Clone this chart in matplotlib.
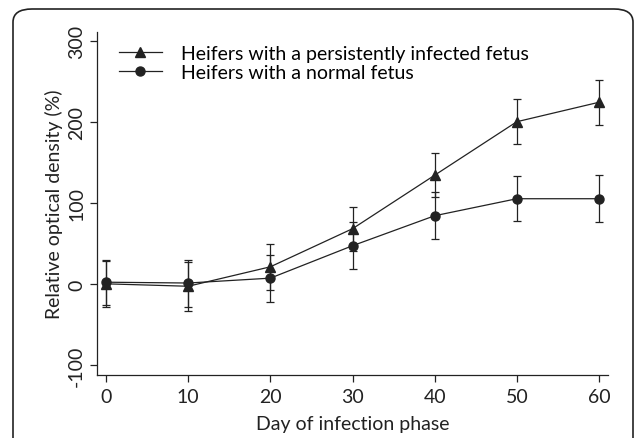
import matplotlib
matplotlib.use("Agg")
from matplotlib import pyplot as plt
from matplotlib.patches import FancyBboxPatch

# Data
days = [0, 10, 20, 30, 40, 50, 60]
pi_mean = [0, -3, 21, 68, 134, 200, 224]
pi_err = [28, 30, 28, 27, 27, 28, 28]
normal_mean = [2, 1, 7, 47, 84, 105, 105]
normal_err = [28, 29, 29, 29, 29, 28, 29]

labels = ['Heifers with a persistently infected fetus',
          'Heifers with a normal fetus']

plt.rcParams['font.family'] = ['Lato', 'DejaVu Sans']
plt.rcParams['axes.unicode_minus'] = False
ink = '#222222'
fs = 14

fig = plt.figure(figsize=(6.34, 4.39), dpi=100)
ax = fig.add_axes([0.153, 0.1444, 0.806, 0.781])

ax.errorbar(days, pi_mean, yerr=pi_err, marker='^', markersize=6.5,
            color=ink, lw=0.9, elinewidth=0.9, capsize=3, capthick=0.9,
            label=labels[0])
ax.errorbar(days, normal_mean, yerr=normal_err, marker='o', markersize=6.5,
            color=ink, lw=0.9, elinewidth=0.9, capsize=3, capthick=0.9,
            label=labels[1])

ax.set_xlim(-1.1, 61.1)
ax.set_ylim(-112, 311)
ax.set_xticks(days)
ax.set_yticks([-100, 0, 100, 200, 300])
ax.tick_params(axis='y', labelrotation=90)
for t in ax.get_yticklabels():
    t.set_va('center')
ax.tick_params(colors=ink, labelsize=fs, length=5, width=0.9)
ax.tick_params(axis='x', pad=5)
for s in ['top', 'right']:
    ax.spines[s].set_visible(False)
for s in ['left', 'bottom']:
    ax.spines[s].set_color(ink)
    ax.spines[s].set_linewidth(0.9)

ax.set_xlabel('Day of infection phase', fontsize=fs, color=ink, labelpad=7)
ax.set_ylabel('Relative optical density (%)', fontsize=fs, color=ink, labelpad=4)

# legend without the error bar glyphs
handles, _ = ax.get_legend_handles_labels()
handles = [h[0] for h in handles]
ax.legend(handles, labels, loc='upper left', frameon=False, fontsize=fs,
          handlelength=2.2, handletextpad=1.0, borderaxespad=0.2,
          labelspacing=0.1, bbox_to_anchor=(0.02, 0.995))

# rounded frame around the panel
box = FancyBboxPatch((13 / 634, -0.2), 620 / 634, 1.2 - 10 / 439,
                     boxstyle='round,pad=0,rounding_size=0.03',
                     transform=fig.transFigure, fill=False,
                     edgecolor=ink, lw=1.2, clip_on=False)
fig.patches.append(box)

fig.savefig('out.png', dpi=100)
